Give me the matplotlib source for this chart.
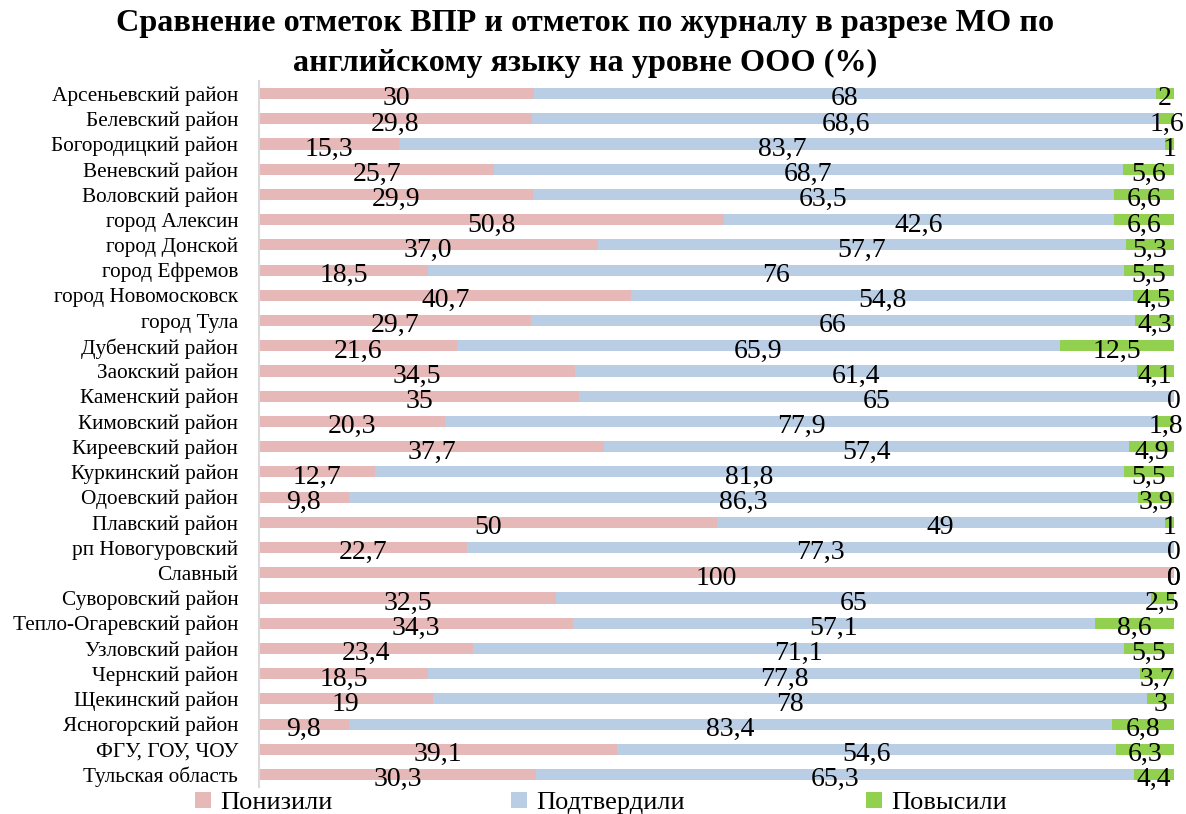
import matplotlib
matplotlib.use("Agg")
import matplotlib.pyplot as plt
from matplotlib.patches import Patch

plt.rcParams['font.family'] = ['Liberation Serif', 'DejaVu Serif']

districts = [
    "Арсеньевский район", "Белевский район", "Богородицкий район", "Веневский район",
    "Воловский район", "город Алексин", "город Донской", "город Ефремов",
    "город Новомосковск", "город Тула", "Дубенский район", "Заокский район",
    "Каменский район", "Кимовский район", "Киреевский район", "Куркинский район",
    "Одоевский район", "Плавский район", "рп Новогуровский", "Славный",
    "Суворовский район", "Тепло-Огаревский район", "Узловский район", "Чернский район",
    "Щекинский район", "Ясногорский район", "ФГУ, ГОУ, ЧОУ", "Тульская область",
]
lowered = [30, 29.8, 15.3, 25.7, 29.9, 50.8, 37.0, 18.5, 40.7, 29.7, 21.6, 34.5, 35, 20.3,
           37.7, 12.7, 9.8, 50, 22.7, 100, 32.5, 34.3, 23.4, 18.5, 19, 9.8, 39.1, 30.3]
confirmed = [68, 68.6, 83.7, 68.7, 63.5, 42.6, 57.7, 76, 54.8, 66, 65.9, 61.4, 65, 77.9,
             57.4, 81.8, 86.3, 49, 77.3, 0, 65, 57.1, 71.1, 77.8, 78, 83.4, 54.6, 65.3]
raised = [2, 1.6, 1, 5.6, 6.6, 6.6, 5.3, 5.5, 4.5, 4.3, 12.5, 4.1, 0, 1.8,
          4.9, 5.5, 3.9, 1, 0, 0, 2.5, 8.6, 5.5, 3.7, 3, 6.8, 6.3, 4.4]
series_names = ["Понизили", "Подтвердили", "Повысили"]
colors = ["#E6B9B8", "#B9CDE5", "#92D050"]

fig = plt.figure(figsize=(11.86, 8.14), dpi=100)
ax = fig.add_axes([0.2184, 0.0330, 0.7715, 0.8675])

y = list(range(len(districts)))
left = [0.0] * len(districts)
for vals, col in zip([lowered, confirmed, raised], colors):
    ax.barh(y, vals, left=left, height=0.44, color=col, linewidth=0)
    for yi, (l, v) in enumerate(zip(left, vals)):
        ax.annotate(str(v).replace('.', ','), xy=(l + v / 2, yi), xytext=(0, -8.5),
                    textcoords='offset points', ha='center', va='baseline',
                    fontsize=20, color='black')
    left = [l + v for l, v in zip(left, vals)]

ax.set_xlim(0, 100)
ax.set_ylim(len(districts) - 0.5, -0.5)
ax.set_yticks(y)
ax.set_yticklabels(districts, fontsize=15.3)
ax.tick_params(axis='y', length=0, pad=15)
ax.xaxis.set_visible(False)
for s in ['top', 'right', 'bottom']:
    ax.spines[s].set_visible(False)
ax.spines['left'].set_color('#D9D9D9')
ax.spines['left'].set_linewidth(1.5)

fig.text(0.493, 0.971, "Сравнение отметок ВПР и отметок по журналу в разрезе МО по",
         ha='center', va='center', fontsize=23.2, fontweight='bold')
fig.text(0.493, 0.922, "английскому языку на уровне ООО (%)",
         ha='center', va='center', fontsize=23.2, fontweight='bold')

legend_x = [195, 511, 866]
for name, col, lx in zip(series_names, colors, legend_x):
    fig.legend(handles=[Patch(facecolor=col, edgecolor='none')], labels=[name],
               loc='center left', bbox_to_anchor=(lx / 1186, 1 - 803 / 814),
               frameon=False, fontsize=19, handlelength=0.6, handleheight=0.6,
               handletextpad=0.35, borderpad=0, borderaxespad=0)

fig.savefig("out.png", dpi=100)
